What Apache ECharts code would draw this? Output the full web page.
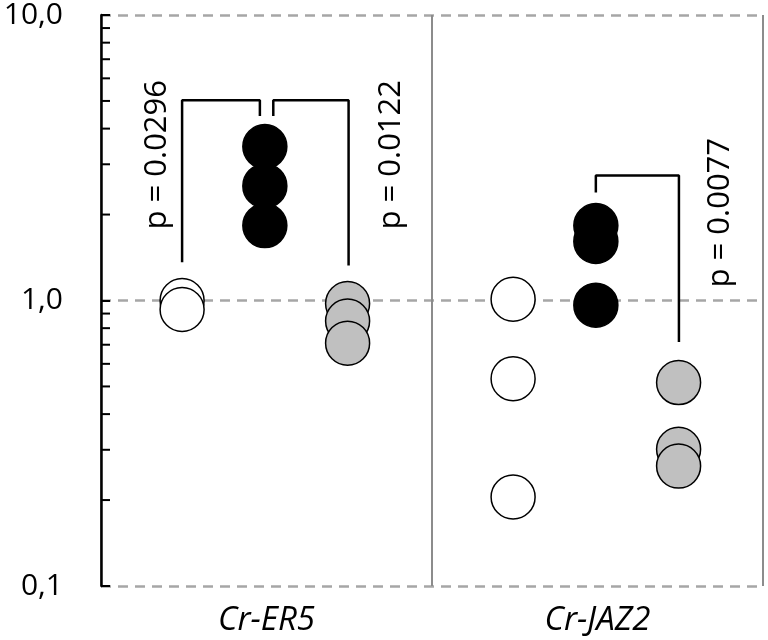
<!DOCTYPE html>
<html>
<head>
<meta charset="utf-8">
<script src="https://cdn.jsdelivr.net/npm/echarts@6/dist/echarts.min.js"></script>
<style>html,body{margin:0;padding:0;background:#fff;}#chart{width:768px;height:640px;}</style>
</head>
<body>
<div id="chart"></div>
<script>
// ---- data ----
const categories = ['Cr-ER5', 'Cr-JAZ2'];
const whiteER5 = [1.00, 0.93];
const blackER5 = [3.46, 2.52, 1.83];
const grayER5 = [0.976, 0.847, 0.709];
const whiteJAZ2 = [1.01, 0.532, 0.205];
const blackJAZ2 = [1.83, 1.61, 0.963];
const grayJAZ2 = [0.516, 0.301, 0.263];
const yTickValues = [0.1, 1, 10];
const minorTickValues = [0.2, 0.3, 0.4, 0.5, 0.6, 0.7, 0.8, 0.9, 2, 3, 4, 5, 6, 7, 8, 9];
// significance brackets [x, y] in data units (x: group index space 0..2)
const bracketER5Left = [[0.245, 1.36], [0.245, 5.03], [0.480, 5.03], [0.480, 4.43]];
const bracketER5Right = [[0.5205, 4.43], [0.5205, 5.03], [0.748, 5.03], [0.748, 1.326]];
const bracketJAZ2 = [[1.495, 2.39], [1.495, 2.74], [1.746, 2.74], [1.746, 0.715]];
const pLabels = ['p = 0.0296', 'p = 0.0122', 'p = 0.0077'];
const pLabelPos = [[0.169, 3.24], [0.876, 3.24], [1.870, 2.03]];

// ---- layout helpers ----
const condOffset = [0.245, 0.495, 0.745];
function pts(groupIdx, condIdx, vals) {
  return vals.map(v => [groupIdx + condOffset[condIdx], v]);
}
const FONT = '"Open Sans", "Liberation Sans", sans-serif';
const symSize = 44;
function dotSeries(data, color) {
  return {
    type: 'scatter', xAxisIndex: 0, yAxisIndex: 0, data: data,
    symbol: 'circle', symbolSize: symSize,
    itemStyle: { color: color, borderColor: '#000', borderWidth: 1.5, opacity: 1 },
    z: 5, silent: true
  };
}
function bracketSeries(data) {
  return {
    type: 'line', xAxisIndex: 0, yAxisIndex: 0, data: data,
    symbol: 'none', lineStyle: { color: '#000', width: 2.5 },
    z: 4, silent: true, animation: false
  };
}

const chart = echarts.init(document.getElementById('chart'), null, { renderer: 'canvas' });
chart.setOption({
  animation: false,
  backgroundColor: '#fff',
  grid: { left: 101, top: 14, width: 662, height: 572, containLabel: false },
  xAxis: [
    {
      type: 'value', min: 0, max: 2, interval: 1, position: 'bottom',
      axisLine: { show: false }, axisTick: { show: false }, axisLabel: { show: false },
      splitLine: { show: true, lineStyle: { color: '#8c8c8c', width: 2, type: 'solid' } }
    },
    {
      type: 'category', data: categories, boundaryGap: true, position: 'bottom',
      axisLine: { show: false }, axisTick: { show: false }, splitLine: { show: false },
      axisLabel: { color: '#000', fontSize: 33, fontStyle: 'italic', fontFamily: FONT, margin: 18 }
    }
  ],
  yAxis: {
    type: 'log', logBase: 10, min: 0.1, max: 10, splitNumber: 2,
    axisLine: { show: true, lineStyle: { color: '#000', width: 2.5 } },
    axisTick: { show: true, inside: true, length: 9, lineStyle: { color: '#000', width: 2 } },
    axisLabel: {
      color: '#000', fontSize: 30, fontFamily: FONT, margin: 38,
      formatter: v => Number(v).toFixed(1).replace('.', ',')
    },
    splitLine: { show: true, lineStyle: { color: '#a6a6a6', width: 2.5, type: [10, 7] } }
  },
  series: [
    {
      type: 'custom', xAxisIndex: 0, yAxisIndex: 0, silent: true, clip: false, z: 6,
      data: minorTickValues.map(v => [0, v]),
      renderItem: function (params, api) {
        const p = api.coord([api.value(0), api.value(1)]);
        return { type: 'line', shape: { x1: p[0], y1: p[1], x2: p[0] + 9, y2: p[1] },
          style: { stroke: '#000', lineWidth: 2 } };
      }
    },
    dotSeries(pts(0, 0, whiteER5), '#ffffff'),
    dotSeries(pts(0, 1, blackER5), '#000000'),
    dotSeries(pts(0, 2, grayER5), '#c0c0c0'),
    dotSeries(pts(1, 0, whiteJAZ2), '#ffffff'),
    dotSeries(pts(1, 1, blackJAZ2), '#000000'),
    dotSeries(pts(1, 2, grayJAZ2), '#c0c0c0'),
    bracketSeries(bracketER5Left),
    bracketSeries(bracketER5Right),
    bracketSeries(bracketJAZ2),
    {
      type: 'custom', xAxisIndex: 0, yAxisIndex: 0, silent: true, clip: false, z: 7,
      data: pLabelPos.map((p, i) => [p[0], p[1], i]),
      renderItem: function (params, api) {
        const p = api.coord([api.value(0), api.value(1)]);
        return { type: 'text', x: p[0], y: p[1], rotation: Math.PI / 2,
          style: { text: pLabels[api.value(2)], fill: '#000', font: '31px ' + FONT,
            align: 'center', verticalAlign: 'middle' } };
      }
    }
  ]
});
</script>
</body>
</html>
